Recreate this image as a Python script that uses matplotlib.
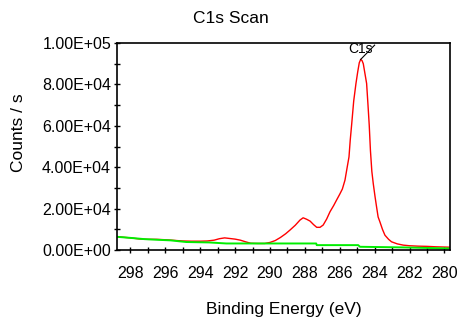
import numpy as np
import matplotlib.pyplot as plt

plt.rcParams['font.family'] = ['Liberation Sans', 'DejaVu Sans']

# C1s spectrum (binding energy eV, counts/s)
energy = [298.75, 298.4, 298.0, 297.5, 297.0, 296.5, 296.0, 295.5, 295.0, 294.5,
          294.0, 293.6, 293.2, 292.9, 292.6, 292.3, 292.0, 291.7, 291.4, 291.1,
          290.7, 290.3, 290.0, 289.7, 289.4, 289.1, 288.85, 288.55, 288.28, 288.1,
          287.9, 287.7, 287.5, 287.32, 287.13, 286.95, 286.75, 286.56, 286.35, 286.18,
          286.0, 285.85, 285.7, 285.57, 285.47, 285.4, 285.32, 285.2, 285.07, 284.97,
          284.88, 284.8, 284.72, 284.65, 284.55, 284.46, 284.38, 284.31, 284.24, 284.16,
          284.08, 283.98, 283.89, 283.8, 283.7, 283.55, 283.41, 283.2, 283.03, 282.7,
          282.36, 282.0, 281.5, 281.0, 280.5, 279.7]
counts = [6500, 6200, 5900, 5400, 5200, 5200, 5000, 4700, 4400, 4300,
          4300, 4400, 4800, 5500, 5900, 5600, 5300, 4800, 4000, 3300,
          3200, 3200, 3700, 4600, 6100, 7900, 9700, 12000, 14500, 15600,
          14900, 14000, 12300, 11000, 11000, 12100, 15000, 18500, 21500, 24200,
          27000, 29500, 33800, 40200, 45000, 53000, 60400, 72000, 80500, 86100,
          90500, 92100, 91500, 90000, 85000, 80500, 70000, 60400, 48000, 38000,
          32200, 26000, 20900, 16000, 13700, 10000, 7200, 5200, 4000, 3000,
          2400, 2100, 1900, 1800, 1600, 1400]

# background line
bg_energy = [298.75, 298.0, 297.2, 296.5, 295.7, 294.8, 293.5, 292.5, 289.4,
             287.35, 287.32, 284.94, 284.84, 282.4, 279.7]
bg_counts = [6400, 5900, 5300, 5000, 4700, 3900, 3700, 3200, 3200,
             3200, 2400, 2400, 1600, 1300, 800]

peak_label = 'C1s'
peak_pos = (284.8, 92100)
label_end = (284.0, 99000)

fig = plt.figure(figsize=(4.62, 3.19), dpi=100)
ax = fig.add_axes([0.254, 0.216, 0.72, 0.649])

ax.plot(energy, counts, color='#ff0000', lw=1.0)
ax.plot(bg_energy, bg_counts, color='#00ee00', lw=1.4)

# peak marker
ax.plot([peak_pos[0], label_end[0]], [peak_pos[1], label_end[1]], color='black', lw=0.8)
ax.text(284.81, 97100, peak_label, ha='center', va='center', fontsize=10)

ax.set_xlim(298.75, 279.68)
ax.set_ylim(0, 100000)
ax.set_xticks(np.arange(298, 279, -2))
ax.set_xticks(np.arange(298, 279, -1), minor=True)
ax.set_yticks(np.arange(0, 100001, 20000))
ax.set_yticks(np.arange(0, 100001, 10000), minor=True)
ax.set_yticklabels(['%.2E' % v for v in np.arange(0, 100001, 20000)])

ax.tick_params(which='both', direction='inout', length=5, width=1, labelsize=11.5)
ax.tick_params(axis='x', which='both', pad=9)
ax.tick_params(axis='y', which='both', pad=2)
for s in ax.spines.values():
    s.set_linewidth(1.2)

ax.set_xlabel('Binding Energy (eV)', fontsize=12.5)
ax.xaxis.label.set_va('center')
ax.xaxis.set_label_coords(0.5, -0.285)
ax.set_ylabel('Counts / s', fontsize=12.5)
ax.yaxis.label.set_va('center')
ax.yaxis.set_label_coords(-0.298, 0.565)

fig.text(0.5, 1 - 18.5 / 319, 'C1s Scan', ha='center', va='center', fontsize=12.5)

fig.savefig('out.png', dpi=100)
